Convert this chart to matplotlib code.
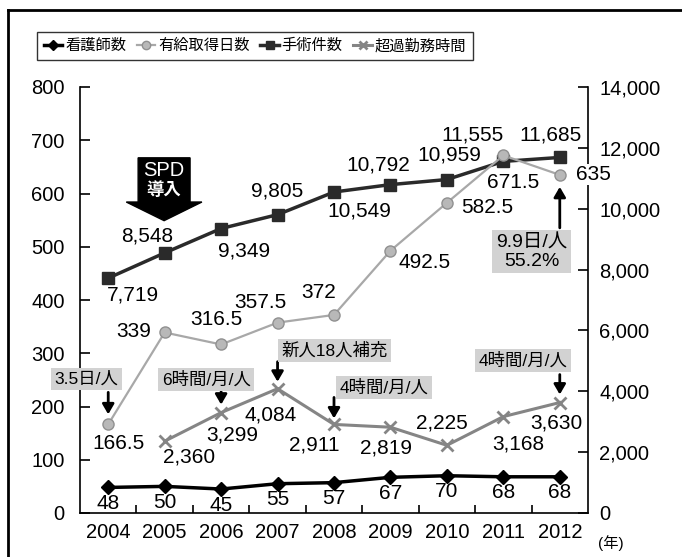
import matplotlib
matplotlib.use('Agg')
import matplotlib.pyplot as plt
from matplotlib.lines import Line2D
from matplotlib.patches import Polygon
from matplotlib.ticker import FuncFormatter, FixedLocator
from matplotlib.transforms import offset_copy

plt.rcParams['font.family'] = ['Liberation Sans', 'Noto Sans CJK JP', 'DejaVu Sans']

# データ
years = [2004, 2005, 2006, 2007, 2008, 2009, 2010, 2011, 2012]
nurses = [48, 50, 45, 55, 57, 67, 70, 68, 68]
paid_leave = [166.5, 339, 316.5, 357.5, 372, 492.5, 582.5, 671.5, 635]
surgeries = [7719, 8548, 9349, 9805, 10549, 10792, 10959, 11555, 11685]
ot_years = [2005, 2006, 2007, 2008, 2009, 2010, 2011, 2012]
overtime = [2360, 3299, 4084, 2911, 2819, 2225, 3168, 3630]

legend_labels = ['看護師数', '有給取得日数', '手術件数', '超過勤務時間']

# ラベル位置 (px オフセット)
nurse_off = [(0, -16)] * 9
leave_off = [(10, -19), (-31, 1), (-5, 25), (-17, 20), (-15, 22), (34, -12), (40, -5), (10, -27), (34, 0)]
surg_off = [(25, -17), (-17, 17), (23, -22), (0, 24), (25, -19), (-12, 20), (2, 25), (-31, 26), (-9, 22)]
ot_off = [(24, -16), (11, -22), (-7, -26), (-20, -21), (-4, -21), (-5, 22), (15, -27), (-3, -20)]

PT = 0.72  # px -> pt

fig = plt.figure(figsize=(6.82, 5.57), dpi=100)
ax = fig.add_axes([80 / 682, 1 - 513 / 557, 508 / 682, 426 / 557])
ax2 = ax.twinx()
ax.set_zorder(ax2.get_zorder() + 1)
ax.patch.set_visible(False)

c_nurse = 'black'
c_leave = '#a8a8a8'
c_surg = '#2a2a2a'
c_ot = '#858585'

l1, = ax.plot(years, nurses, color=c_nurse, lw=2.5, marker='D', ms=7, zorder=5)
l2, = ax.plot(years, paid_leave, color=c_leave, lw=1.6, marker='o', ms=8,
              mfc='#b8b8b8', mec='#909090', zorder=4)
l3, = ax2.plot(years, surgeries, color=c_surg, lw=2.5, marker='s', ms=8, zorder=4)
l4, = ax2.plot(ot_years, overtime, color=c_ot, lw=2.2, marker='x', ms=8, mew=2, zorder=4)

ax.set_xlim(2003.5, 2012.5)
ax.set_ylim(0, 800)
ax2.set_ylim(0, 14000)
ax.set_yticks(range(0, 801, 100))
ax2.set_yticks(range(0, 14001, 2000))
ax2.yaxis.set_major_formatter(FuncFormatter(lambda v, p: f'{int(v):,}'))
ax.set_xticks(years)
ax.xaxis.set_minor_locator(FixedLocator([y + 0.5 for y in years[:-1]]))

ax.spines['top'].set_visible(False)
ax.spines['right'].set_visible(False)
for s in ax2.spines.values():
    s.set_visible(False)
ax2.spines['right'].set_visible(True)
for a in (ax, ax2):
    for s in a.spines.values():
        s.set_linewidth(1.2)
ax.tick_params(axis='y', direction='in', length=7, width=1.2, pad=11, labelsize=14.5)
ax2.tick_params(axis='y', direction='in', length=7, width=1.2, pad=8, labelsize=14.5)
ax.tick_params(axis='x', which='major', length=0, pad=7, labelsize=14.5)
ax.tick_params(axis='x', which='minor', direction='in', length=6, width=1.2)

fs = 15
for x, v, (dx, dy) in zip(years, nurses, nurse_off):
    ax.annotate(str(v), (x, v), xytext=(dx * PT, dy * PT), textcoords='offset points',
                ha='center', va='center', fontsize=fs)
for x, v, (dx, dy) in zip(years, paid_leave, leave_off):
    bb = dict(boxstyle='square,pad=0.05', fc='white', ec='none') if x == years[-1] else None
    ax.annotate(f'{v:g}', (x, v), xytext=(dx * PT, dy * PT), textcoords='offset points',
                ha='center', va='center', fontsize=fs, bbox=bb, annotation_clip=False)
for x, v, (dx, dy) in zip(years, surgeries, surg_off):
    ax2.annotate(f'{v:,}', (x, v), xytext=(dx * PT, dy * PT), textcoords='offset points',
                 ha='center', va='center', fontsize=fs)
for x, v, (dx, dy) in zip(ot_years, overtime, ot_off):
    ax2.annotate(f'{v:,}', (x, v), xytext=(dx * PT, dy * PT), textcoords='offset points',
                 ha='center', va='center', fontsize=fs)

# 吹き出し
box = dict(boxstyle='square,pad=0.2', fc='#d2d2d2', ec='none')
arrow = dict(arrowstyle='-|>,head_length=0.6,head_width=0.35', color='black', lw=2,
             shrinkA=0, shrinkB=0)


def callout(a, x, v, text, tdx, tdy, a0, a1, size=12.5):
    # a0: 矢印の根元, a1: 矢印の先 (点からの px オフセット)
    t0 = offset_copy(a.transData, fig=fig, x=0, y=a0 * PT, units='points')
    t1 = offset_copy(a.transData, fig=fig, x=0, y=a1 * PT, units='points')
    a.annotate('', xy=(x, v), xycoords=t1, xytext=(x, v), textcoords=t0, arrowprops=arrow)
    a.annotate(text, (x, v), xytext=(tdx * PT, tdy * PT), textcoords='offset points',
               ha='center', va='center', fontsize=size, bbox=box, linespacing=1.1)


callout(ax, years[0], paid_leave[0], '3.5日/人', -22, 45, 32, 10)
callout(ax2, ot_years[1], overtime[1], '6時間/月/人', -15, 33, 21, 8)
callout(ax2, ot_years[2], overtime[2], '新人18人補充', 57, 38, 27, 7)
callout(ax2, ot_years[3], overtime[3], '4時間/月/人', 50, 37, 27, 6)
callout(ax2, ot_years[7], overtime[7], '4時間/月/人', -37, 42, 28, 8)
callout(ax, years[8], paid_leave[8], '9.9日/人\n55.2%', -28, -77, -53, -12, size=14)

# SPD導入 矢印
cx = years[1]
ax.add_patch(Polygon([(cx - 0.47, 667), (cx + 0.45, 667), (cx + 0.45, 584),
                      (cx + 0.66, 584), (cx - 0.01, 549), (cx - 0.68, 584),
                      (cx - 0.47, 584)], closed=True, fc='black', ec='black', zorder=6))
ax.text(cx - 0.01, 644, 'SPD', color='white', ha='center', va='center', fontsize=14.5, zorder=7)
ax.text(cx - 0.01, 607, '導入', color='white', ha='center', va='center', fontsize=12.5,
        fontweight='bold', zorder=7)

fig.text(598 / 682, 1 - 543 / 557, '(年)', ha='left', va='center', fontsize=11)

# 凡例
handles = [l1, l2, l3, l4]
leg = fig.legend(handles, legend_labels, loc='center', bbox_to_anchor=(255 / 682, 1 - 46 / 557),
                 ncol=4, fontsize=11, frameon=True, fancybox=False, edgecolor='black',
                 handlelength=1.2, handletextpad=0.2, columnspacing=0.7, borderpad=0.45,
                 borderaxespad=0, markerscale=0.75)
leg.get_frame().set_linewidth(1.0)

# 外枠
fig.add_artist(Line2D([8 / 682, 8 / 682], [0, 1 - 10 / 557], transform=fig.transFigure,
                      color='black', lw=2))
fig.add_artist(Line2D([8 / 682, 1], [1 - 10 / 557, 1 - 10 / 557], transform=fig.transFigure,
                      color='black', lw=2))

fig.savefig('out.png', dpi=100)
